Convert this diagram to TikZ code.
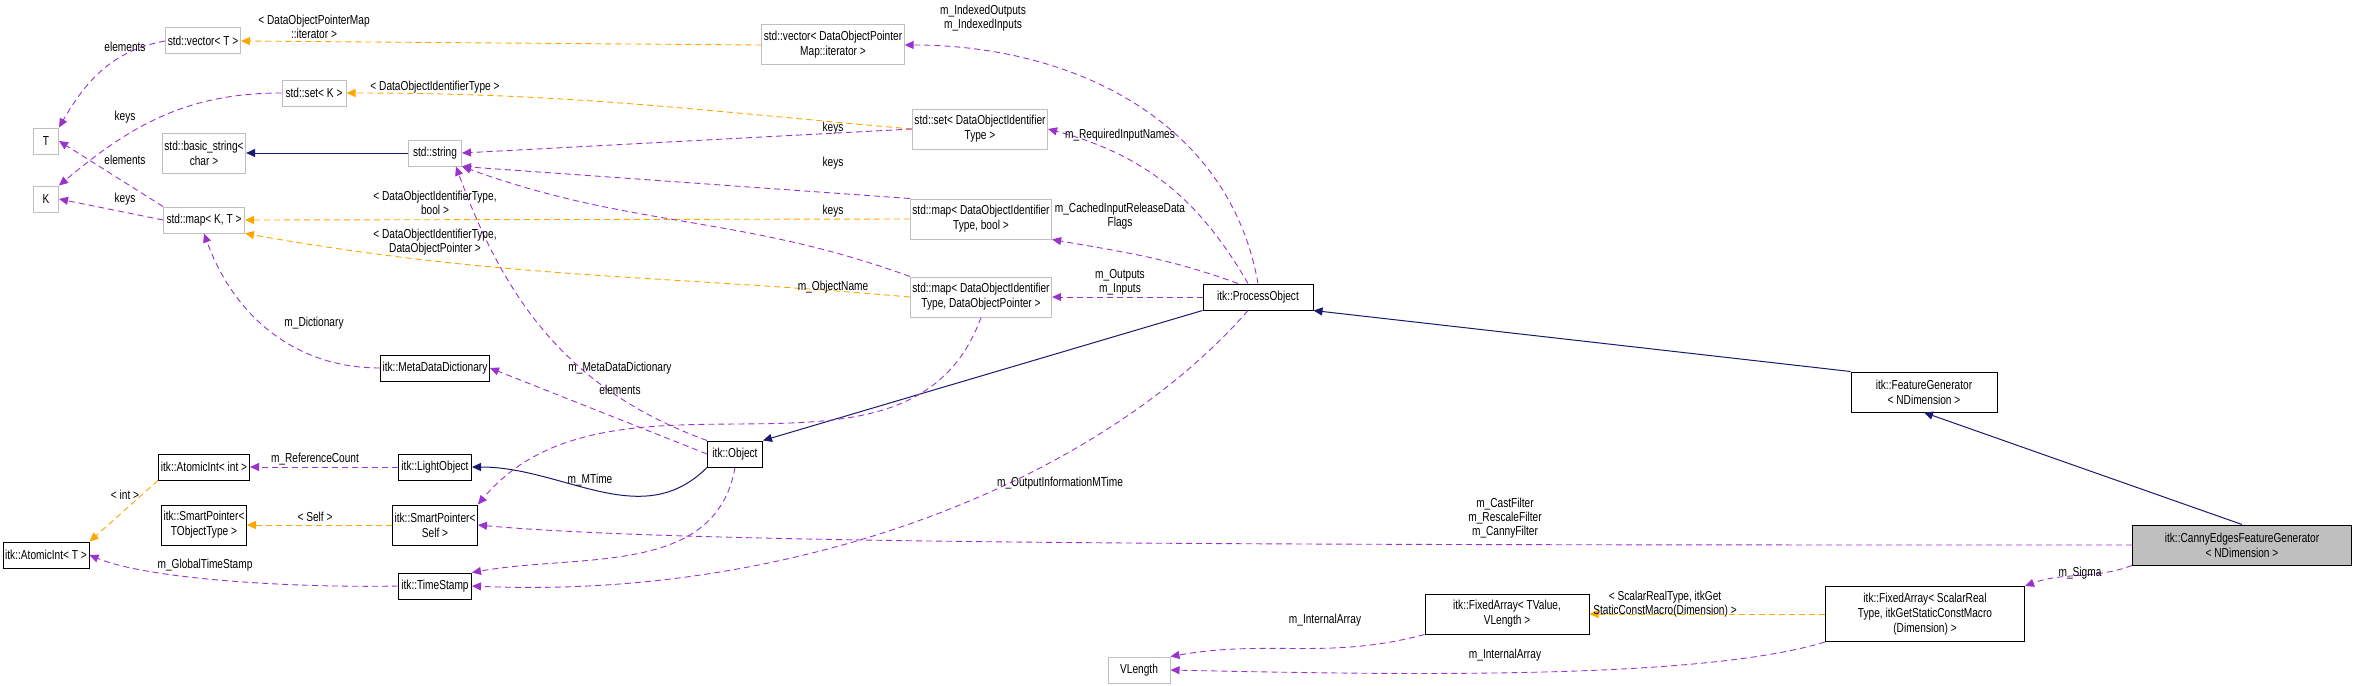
\documentclass[tikz,border=0pt]{standalone}
\usepackage{fontspec}
\setmainfont{Liberation Sans}[FakeStretch=0.78]
\usetikzlibrary{arrows.meta}
\definecolor{pu}{HTML}{9A32CD}
\definecolor{orn}{HTML}{FFA500}
\definecolor{nav}{HTML}{191970}
\definecolor{gb}{HTML}{BFBFBF}
\begin{document}
\begin{tikzpicture}[x=1pt,y=-1pt,
  every node/.style={font=\fontsize{13}{15}\selectfont, align=center, inner sep=1pt},
  bx/.style={draw=gb, line width=1pt, fill=white, inner sep=2pt},
  ib/.style={draw=black, line width=1pt, fill=white, inner sep=2pt},
  tip/.style={-{Triangle[length=9pt,width=8pt]}},
  pe/.style={draw=pu, dashed, dash pattern=on 6pt off 4pt, line width=0.9pt, tip, pu},
  oe/.style={draw=orn, dashed, dash pattern=on 6pt off 4pt, line width=0.9pt, tip, orn},
  ne/.style={draw=nav, line width=1pt, tip, nav},
  lb/.style={font=\fontsize{13}{14}\selectfont}]
\useasboundingbox (0,0) rectangle (2357,685);
% nodes
\node[bx, minimum width=75, minimum height=26] (vecT) at (203,41) {std::vector\textless{} T \textgreater};
\node[bx, minimum width=64, minimum height=26] (setK) at (314,93) {std::set\textless{} K \textgreater};
\node[bx, minimum width=25, minimum height=26] (T) at (46,141) {T};
\node[bx, minimum width=25, minimum height=26] (K) at (46,199) {K};
\node[bx, minimum width=83, minimum height=40] (bstr) at (204,153) {std::basic\_string\textless\\char \textgreater};
\node[bx, minimum width=53, minimum height=26] (str) at (435,153) {std::string};
\node[bx, minimum width=81, minimum height=26] (mapKT) at (204,220) {std::map\textless{} K, T \textgreater};
\node[bx, minimum width=132, minimum height=40] (vecD) at (833,45) {std::vector\textless{} DataObjectPointer\\Map::iterator \textgreater};
\node[bx, minimum width=127, minimum height=40] (setD) at (980,129) {std::set\textless{} DataObjectIdentifier\\Type \textgreater};
\node[bx, minimum width=131, minimum height=40] (mapB) at (981,219) {std::map\textless{} DataObjectIdentifier\\Type, bool \textgreater};
\node[bx, minimum width=131, minimum height=40] (mapP) at (981,297) {std::map\textless{} DataObjectIdentifier\\Type, DataObjectPointer \textgreater};
\node[ib, minimum width=110, minimum height=26] (PO) at (1258,297) {itk::ProcessObject};
\node[ib, minimum width=105, minimum height=26] (MDD) at (435,368) {itk::MetaDataDictionary};
\node[ib, minimum width=55, minimum height=26] (Obj) at (735,454) {itk::Object};
\node[ib, minimum width=91, minimum height=26] (AIi) at (204,467) {itk::AtomicInt\textless{} int \textgreater};
\node[ib, minimum width=73, minimum height=26] (LO) at (435,467) {itk::LightObject};
\node[ib, minimum width=84, minimum height=40] (SPT) at (204,525) {itk::SmartPointer\textless\\TObjectType \textgreater};
\node[ib, minimum width=83, minimum height=40] (SPS) at (435,525) {itk::SmartPointer\textless\\Self \textgreater};
\node[ib, minimum width=86, minimum height=26] (AIT) at (46,555) {itk::AtomicInt\textless{} T \textgreater};
\node[ib, minimum width=73, minimum height=26] (TS) at (435,586) {itk::TimeStamp};
\node[ib, minimum width=146, minimum height=40] (FG) at (1924,392) {itk::FeatureGenerator\\\textless{} NDimension \textgreater};
\node[ib, fill=gb, minimum width=219, minimum height=40] (CE) at (2242,545) {itk::CannyEdgesFeatureGenerator\\\textless{} NDimension \textgreater};
\node[ib, minimum width=199, minimum height=55] (FAS) at (1925,614) {itk::FixedArray\textless{} ScalarReal\\Type, itkGetStaticConstMacro\\(Dimension) \textgreater};
\node[ib, minimum width=164, minimum height=40] (FAT) at (1507,614) {itk::FixedArray\textless{} TValue,\\VLength \textgreater};
\node[bx, minimum width=62, minimum height=26] (VL) at (1139,670) {VLength};
% inheritance
\draw[ne] (str) -- (bstr);
\draw[ne] (Obj.south west) to[out=-135,in=0] (LO.east);
\draw[ne] (PO.south west) -- (Obj.north east);
\draw[ne] (FG.north west) -- (PO.south east);
\draw[ne] (CE.north) -- (FG.south);
% orange template edges
\draw[oe] (vecD.west) -- (vecT.east);
\draw[oe] (setD.west) to[out=175,in=0] (setK.east);
\draw[oe] (mapB.west) -- (mapKT.east);
\draw[oe] (mapP.west) to[out=175,in=-10] (mapKT.south east);
\draw[oe] (AIi.south west) -- (AIT.north east);
\draw[oe] (SPS.west) -- (SPT.east);
\draw[oe] (FAS.west) -- (FAT.east);
% purple member edges
\draw[pe] (vecT.west) to[out=190,in=60] (T.north east);
\draw[pe] (setK.west) to[out=180,in=40] (K.north east);
\draw[pe] (mapKT.north west) -- (T.east);
\draw[pe] (mapKT.west) -- (K.east);
\draw[pe] (MDD.west) to[out=180,in=-70] (mapKT.south);
\draw[pe] (setD.west) -- (str.east);
\draw[pe] (mapB.north west) -- (str.south east);
\draw[pe] (mapP.north west) to[out=160,in=-20] (str.south east);
\draw[pe] (Obj.north west) to[out=160,in=-70] ([xshift=-6]str.south east);
\draw[pe] (PO.north) to[out=100,in=0] (vecD.east);
\draw[pe] ([xshift=-10]PO.north) to[out=120,in=-15] (setD.east);
\draw[pe] ([xshift=-20]PO.north) to[out=160,in=-10] (mapB.south east);
\draw[pe] (PO.west) -- (mapP.east);
\draw[pe] (Obj.west) -- (MDD.east);
\draw[pe] (LO.west) -- (AIi.east);
\draw[pe] (mapP.south) to[out=-110,in=50] (SPS.north east);
\draw[pe] (CE.west) .. controls (1300,545) and (700,545) .. (SPS.east);
\draw[pe] (Obj.south) to[out=-100,in=10] (TS.north east);
\draw[pe] ([xshift=-10]PO.south) .. controls (1100,480) and (800,600) .. (TS.east);
\draw[pe] (TS.west) .. controls (300,588) and (150,580) .. (AIT.east);
\draw[pe] (CE.south west) to[out=-160,in=20] (FAS.north east);
\draw[pe] (FAT.south west) to[out=-165,in=10] (VL.north east);
\draw[pe] (FAS.south west) .. controls (1700,680) and (1400,675) .. (VL.east);
% labels
\node[lb] (l1) at (125,47) {elements};
\node[lb] (l2) at (125,117) {keys};
\node[lb] (l3) at (125,160) {elements};
\node[lb] (l4) at (125,199) {keys};
\node[lb] (l5) at (314,323) {m\_Dictionary};
\node[lb] (l6) at (314,27) {\textless{} DataObjectPointerMap\\::iterator \textgreater};
\node[lb] (l7) at (435,87) {\textless{} DataObjectIdentifierType \textgreater};
\node[lb] (l8) at (435,203) {\textless{} DataObjectIdentifierType,\\bool \textgreater};
\node[lb] (l9) at (435,242) {\textless{} DataObjectIdentifierType,\\DataObjectPointer \textgreater};
\node[lb] (l10) at (833,128) {keys};
\node[lb] (l11) at (833,163) {keys};
\node[lb] (l12) at (833,211) {keys};
\node[lb] (l13) at (833,287) {m\_ObjectName};
\node[lb] (l14) at (983,18) {m\_IndexedOutputs\\m\_IndexedInputs};
\node[lb] (l15) at (1120,135) {m\_RequiredInputNames};
\node[lb] (l16) at (1120,216) {m\_CachedInputReleaseData\\Flags};
\node[lb] (l17) at (1120,282) {m\_Outputs\\m\_Inputs};
\node[lb] (l18) at (620,368) {m\_MetaDataDictionary};
\node[lb] (l19) at (620,390) {elements};
\node[lb] (l20) at (315,459) {m\_ReferenceCount};
\node[lb] (l21) at (125,495) {\textless{} int \textgreater};
\node[lb] (l22) at (315,517) {\textless{} Self \textgreater};
\node[lb] (l23) at (205,565) {m\_GlobalTimeStamp};
\node[lb] (l24) at (590,480) {m\_MTime};
\node[lb] (l25) at (1060,483) {m\_OutputInformationMTime};
\node[lb] (l26) at (1505,518) {m\_CastFilter\\m\_RescaleFilter\\m\_CannyFilter};
\node[lb] (l27) at (2080,573) {m\_Sigma};
\node[lb] (l28) at (1665,604) {\textless{} ScalarRealType, itkGet\\StaticConstMacro(Dimension) \textgreater};
\node[lb] (l29) at (1325,620) {m\_InternalArray};
\node[lb] (l30) at (1505,655) {m\_InternalArray};
\end{tikzpicture}
\end{document}
